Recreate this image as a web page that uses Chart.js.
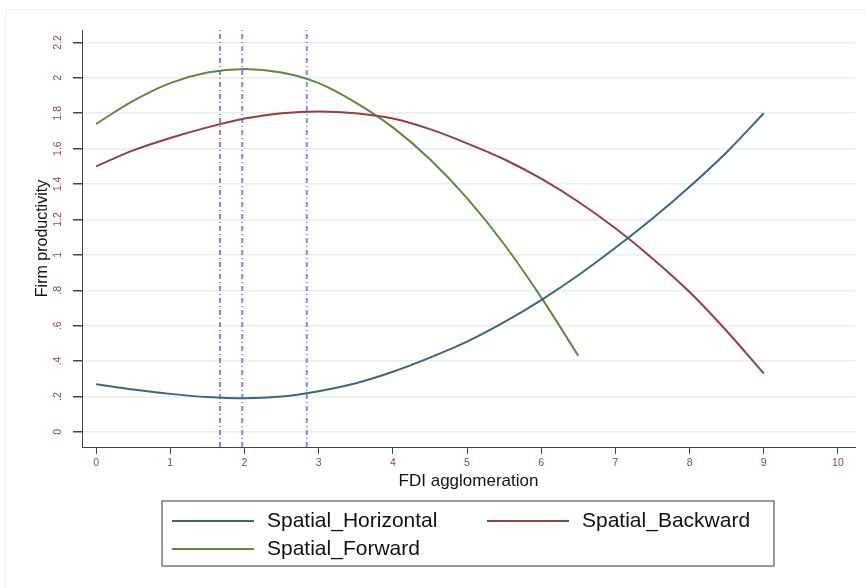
<!DOCTYPE html>
<html>
<head>
<meta charset="utf-8">
<script src="https://cdn.jsdelivr.net/npm/chart.js@4.4.1/dist/chart.umd.min.js"></script>
<style>
  body { margin: 0; background: #fff; }
</style>
</head>
<body>
<canvas id="fdi-chart" width="866" height="588"></canvas>
<script>
// values
var xValues = [0, 0.5, 1, 1.5, 2, 2.5, 3, 3.5, 4, 4.5, 5, 5.5, 6, 6.5, 7, 7.5, 8, 8.5, 9];
var horizontal = [0.27, 0.24, 0.215, 0.197, 0.19, 0.2, 0.23, 0.275, 0.34, 0.42, 0.51, 0.62, 0.745, 0.885, 1.04, 1.205, 1.385, 1.58, 1.80];
var backward = [1.50, 1.59, 1.66, 1.72, 1.77, 1.80, 1.81, 1.80, 1.77, 1.71, 1.63, 1.54, 1.43, 1.30, 1.15, 0.98, 0.79, 0.57, 0.33];
var forwardX = [0, 0.5, 1, 1.5, 2, 2.5, 3, 3.5, 4, 4.5, 5, 5.5, 6, 6.5];
var forward = [1.74, 1.87, 1.97, 2.03, 2.05, 2.03, 1.97, 1.86, 1.72, 1.54, 1.32, 1.06, 0.76, 0.43];
var markerX = [1.67, 1.97, 2.84];
var xTicks = [0, 1, 2, 3, 4, 5, 6, 7, 8, 9, 10];
var yTicks = [0, 0.2, 0.4, 0.6, 0.8, 1, 1.2, 1.4, 1.6, 1.8, 2, 2.2];

var xMin = -0.19, xMax = 10.23;
var yMin = -0.085, yMax = 2.27;
var tickRed = '#9c3d52';
var fontFam = '"Liberation Sans", Arial, sans-serif';

function pts(xs, ys) {
    return xs.map(function (x, i) { return { x: x, y: ys[i] }; });
}

var datasets = [
    { label: 'Spatial_Horizontal', data: pts(xValues, horizontal), borderColor: '#3a668c' },
    { label: 'Spatial_Backward', data: pts(xValues, backward), borderColor: '#9b3c44' },
    { label: 'Spatial_Forward', data: pts(forwardX, forward), borderColor: '#5f8a3a' }
];
datasets.forEach(function (d) {
    d.showLine = true;
    d.pointRadius = 0;
    d.borderWidth = 2;
    d.cubicInterpolationMode = 'monotone';
    d.fill = false;
});
markerX.forEach(function (m) {
    datasets.push({
        label: '',
        isMarker: true,
        data: [{ x: m, y: yMin }, { x: m, y: yMax }],
        showLine: true,
        pointRadius: 0,
        borderColor: 'rgba(110,110,255,0.85)',
        borderWidth: 2,
        borderDash: [5, 3, 1, 3]
    });
});

function fmtY(v) {
    var s = (Math.round(v * 10) / 10).toString();
    return s.replace(/^0\./, '.');
}

// y tick labels are turned 90 degrees, drawn at the scale's own tick pixels
var yLabels = {
    id: 'yLabels',
    afterDraw: function (chart) {
        var ctx = chart.ctx, y = chart.scales.y;
        ctx.save();
        ctx.fillStyle = tickRed;
        ctx.font = '10.5px ' + fontFam;
        ctx.textAlign = 'center';
        ctx.textBaseline = 'middle';
        y.ticks.forEach(function (t) {
            var py = y.getPixelForValue(t.value);
            ctx.save();
            ctx.translate(58, py);
            ctx.rotate(-Math.PI / 2);
            ctx.fillText(fmtY(t.value), 0, 0);
            ctx.restore();
        });
        ctx.restore();
    }
};

// boxed legend like the original
var boxLegend = {
    id: 'boxLegend',
    afterDraw: function (chart) {
        var ctx = chart.ctx;
        var items = chart.data.datasets.filter(function (d) { return !d.isMarker; });
        var spots = [[172, 521], [487, 521], [172, 549]];
        ctx.save();
        ctx.strokeStyle = '#7a7a7a';
        ctx.lineWidth = 1.5;
        ctx.strokeRect(162, 501, 612, 65);
        ctx.font = '21px ' + fontFam;
        ctx.textBaseline = 'middle';
        ctx.textAlign = 'left';
        items.forEach(function (d, i) {
            var s = spots[i];
            ctx.strokeStyle = d.borderColor;
            ctx.lineWidth = 2;
            ctx.beginPath();
            ctx.moveTo(s[0], s[1]);
            ctx.lineTo(s[0] + 82, s[1]);
            ctx.stroke();
            ctx.fillStyle = '#111';
            ctx.fillText(d.label, s[0] + 95, s[1]);
        });
        ctx.restore();
    }
};

var frame = {
    id: 'frame',
    beforeDraw: function (chart) {
        var ctx = chart.ctx;
        ctx.save();
        ctx.strokeStyle = '#eeeeee';
        ctx.strokeRect(5.5, 9.5, 900, 700);
        ctx.restore();
    }
};

var ctx = document.getElementById('fdi-chart').getContext('2d');
var chart = new Chart(ctx, {
    type: 'scatter',
    data: { datasets: datasets },
    plugins: [frame, yLabels, boxLegend],
    options: {
        responsive: false,
        animation: false,
        layout: { padding: { top: 30, right: 11, bottom: 96, left: 0 } },
        plugins: {
            legend: { display: false },
            tooltip: { enabled: false }
        },
        scales: {
            x: {
                type: 'linear',
                min: xMin,
                max: xMax,
                afterBuildTicks: function (s) {
                    s.ticks = xTicks.map(function (v) { return { value: v }; });
                },
                afterFit: function (s) { s.height = 45; },
                ticks: {
                    color: tickRed,
                    font: { family: fontFam, size: 10.5 },
                    padding: 3,
                    maxRotation: 0,
                    callback: function (v) { return v; }
                },
                grid: { drawOnChartArea: false, tickLength: 7, tickColor: '#444' },
                border: { color: '#444', width: 1 },
                title: {
                    display: true,
                    text: 'FDI agglomeration',
                    color: '#111',
                    font: { family: fontFam, size: 17 },
                    padding: { top: 1, bottom: 0 }
                }
            },
            y: {
                type: 'linear',
                min: yMin,
                max: yMax,
                afterBuildTicks: function (s) {
                    s.ticks = yTicks.map(function (v) { return { value: v }; });
                },
                afterFit: function (s) { s.width = 82; },
                ticks: { display: false },
                grid: { color: '#e6eff0', lineWidth: 1.5, tickLength: 9, tickColor: '#444' },
                border: { color: '#444', width: 1 },
                title: {
                    display: true,
                    text: 'Firm productivity',
                    color: '#111',
                    font: { family: fontFam, size: 16 },
                    padding: { top: 33, bottom: 0 }
                }
            }
        }
    }
});
</script>
</body>
</html>
